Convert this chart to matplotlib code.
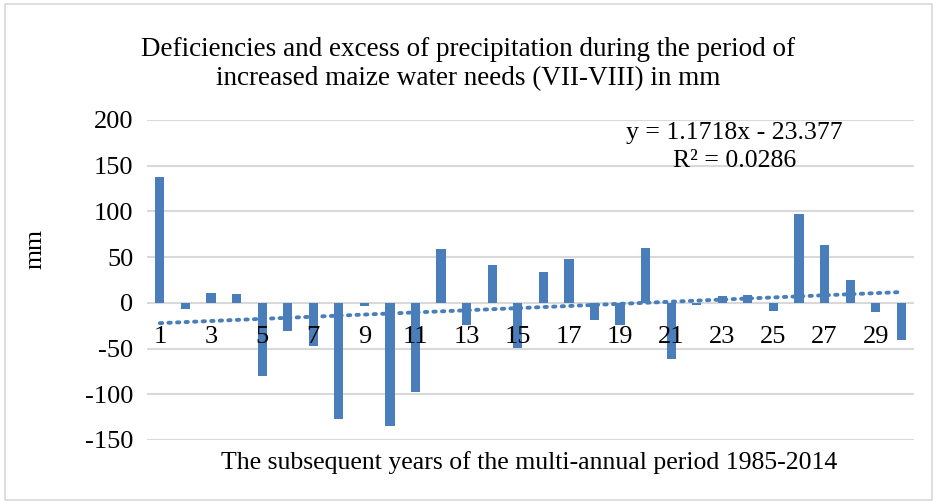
import numpy as np
import matplotlib
matplotlib.use("Agg")
import matplotlib.pyplot as plt
from matplotlib.patches import Rectangle

years = list(range(1, 31))
values = [138, -7, 11, 10, -80, -30.5, -47, -127, -4, -135,
          -97, 59, -24, 41, -49, 33.5, 47.6, -18.5, -24, 60,
          -61, -2.5, 7, 9, -9, 97.5, 63, 25, -9.5, -41]
slope, intercept = 1.1718, -23.377
yticks = [-150, -100, -50, 0, 50, 100, 150, 200]
xtick_labels = [str(i) for i in range(1, 30, 2)]

title = "Deficiencies and excess of precipitation during the period of\nincreased maize water needs (VII-VIII) in mm"
xlabel = "The subsequent years of the multi-annual period 1985-2014"
ylabel = "mm"

plt.rcParams['font.family'] = ['Liberation Serif', 'DejaVu Serif']
blue = '#4a7ebb'

fig = plt.figure(figsize=(9.37, 5.04), dpi=100)
fig.patches.append(Rectangle((0.005, 0.008), 0.99, 0.984, transform=fig.transFigure,
                             fill=False, edgecolor='#d9d9d9', linewidth=1.2))
ax = fig.add_axes([0.157, 0.127, 0.8185, 0.635])

x = np.array(years)
ax.bar(x, values, width=0.36, color=blue, zorder=3)
trend = slope * x + intercept
ax.plot(x, trend, linestyle=(0, (0.6, 1.6)), color=blue, linewidth=2.8,
        dash_capstyle='round', zorder=4)

ax.set_xlim(0.5, 30.5)
ax.set_ylim(-150, 200)
ax.set_yticks(yticks)
ax.set_yticklabels([str(v) for v in yticks])
ax.set_xticks(list(range(1, 30, 2)))
ax.set_xticklabels(xtick_labels)
ax.spines['bottom'].set_position(('data', 0))
ax.tick_params(axis='both', length=0, labelsize=19)
ax.tick_params(axis='y', pad=10)
ax.tick_params(axis='x', pad=16.5)
for s in ax.spines.values():
    s.set_visible(False)
ax.grid(axis='y', color='#d9d9d9', linewidth=1.5, zorder=0)
ax.set_axisbelow(True)
ax.xaxis.set_zorder(5)

fig.text(0.5, 0.873, title, ha='center', va='center', fontsize=19.5, linespacing=1.2)
fig.text(0.565, 0.083, xlabel, ha='center', va='center', fontsize=18.5)
fig.text(0.038, 0.505, ylabel, ha='center', va='center', fontsize=18.5, rotation=90)
fig.text(0.784, 0.708, "y = 1.1718x - 23.377\nR² = 0.0286", ha='center', va='center',
         fontsize=18.5, linespacing=1.35)

fig.savefig("out.png", dpi=100)
